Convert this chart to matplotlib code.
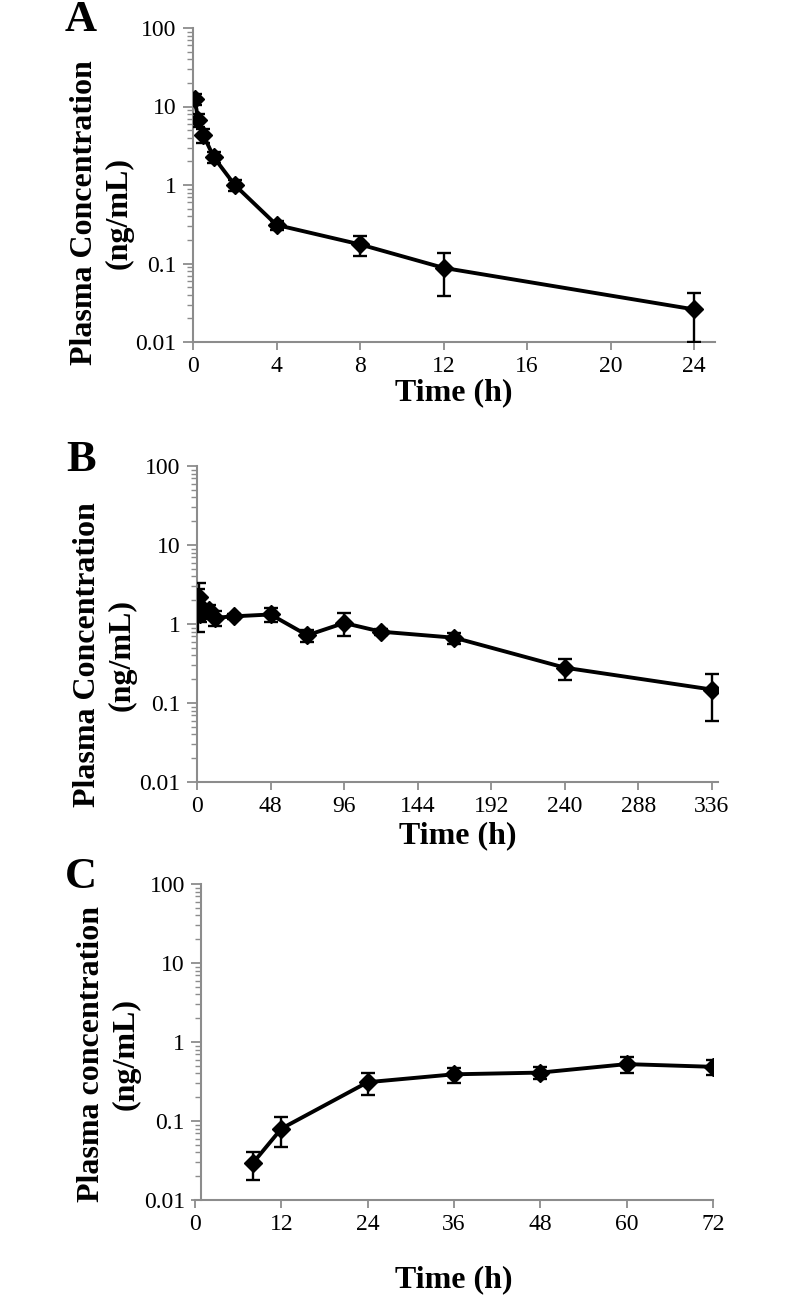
import numpy as np
import matplotlib
matplotlib.use("Agg")
import matplotlib.pyplot as plt
from matplotlib.ticker import FixedLocator, LogLocator, FuncFormatter, NullFormatter

plt.rcParams['font.family'] = ['Liberation Serif', 'DejaVu Serif']

# Panel A
time_a = [0.083, 0.25, 0.5, 1, 2, 4, 8, 12, 24]
conc_a = [12.3, 6.8, 4.3, 2.25, 1.0, 0.31, 0.175, 0.088, 0.026]
sd_a = [2.0, 1.3, 0.9, 0.35, 0.15, 0.04, 0.05, 0.05, 0.016]

# Panel B
time_b = [0.5, 1, 2, 4, 8, 12, 24, 48, 72, 96, 120, 168, 240, 336]
conc_b = [1.8, 2.2, 1.35, 1.45, 1.5, 1.2, 1.25, 1.32, 0.72, 1.03, 0.8, 0.67, 0.28, 0.148]
sd_b = [1.0, 1.1, 0.3, 0.3, 0.25, 0.25, 0.1, 0.26, 0.12, 0.33, 0.07, 0.11, 0.085, 0.088]

# Panel C
time_c = [8, 12, 24, 36, 48, 60, 72]
conc_c = [0.029, 0.080, 0.31, 0.39, 0.41, 0.525, 0.485]
sd_c = [0.011, 0.033, 0.094, 0.085, 0.07, 0.12, 0.1]

W, H = 787, 1303
fig = plt.figure(figsize=(W / 100, H / 100), dpi=100)

grey = '#8c8c8c'


def panel(rect, t, c, sd, xticks, xlim, ylab, ylab_xy, xpad, spine_x=None):
    l, top, r, bot = rect
    ax = fig.add_axes([l / W, 1 - bot / H, (r - l) / W, (bot - top) / H])
    ax.errorbar(t, c, yerr=sd, color='black', lw=2.8, marker='D', ms=9,
                ecolor='black', elinewidth=1.7, capsize=5, capthick=1.7,
                zorder=3)
    ax.set_yscale('log')
    ax.set_ylim(0.01, 100)
    ax.set_xlim(*xlim)
    ax.yaxis.set_major_locator(FixedLocator([0.01, 0.1, 1, 10, 100]))
    ax.yaxis.set_major_formatter(FuncFormatter(lambda v, p: '%g' % v))
    ax.yaxis.set_minor_locator(LogLocator(base=10, subs=np.arange(2, 10)))
    ax.yaxis.set_minor_formatter(NullFormatter())
    ax.set_xticks(xticks)
    for s in ['top', 'right']:
        ax.spines[s].set_visible(False)
    for s in ['left', 'bottom']:
        ax.spines[s].set_color(grey)
        ax.spines[s].set_linewidth(1.5)
    if spine_x is not None:
        ax.spines['left'].set_position(('data', spine_x))
    ax.tick_params(axis='y', which='major', direction='out', length=7, width=1.3,
                   color=grey, labelsize=17, pad=5)
    ax.tick_params(axis='y', which='minor', direction='out', length=4, width=1.0,
                   color=grey)
    ax.tick_params(axis='x', which='major', direction='out', length=6, width=1.3,
                   color=grey, labelsize=17, pad=4)
    ax.set_xlabel('Time (h)', fontsize=23, fontweight='bold', labelpad=xpad)
    fig.text(ylab_xy[0] / W, 1 - ylab_xy[1] / H, ylab, fontsize=23,
             fontweight='bold', rotation=90, ha='center', va='center',
             multialignment='center', linespacing=1.25)
    return ax


panel((193, 28, 715, 342), time_a, conc_a, sd_a, [0, 4, 8, 12, 16, 20, 24],
      (0, 25), 'Plasma Concentration\n(ng/mL)', (102, 213), 1)
panel((197, 466, 718, 782), time_b, conc_b, sd_b,
      [0, 48, 96, 144, 192, 240, 288, 336], (0, 340),
      'Plasma Concentration\n(ng/mL)', (105, 655), 3)
panel((195, 884, 713, 1200), time_c, conc_c, sd_c,
      [0, 12, 24, 36, 48, 60, 72], (0, 72),
      'Plasma concentration\n(ng/mL)', (109, 1054), 22, spine_x=0.9)

for letter, y in [('A', 20), ('B', 460), ('C', 877)]:
    fig.text(81 / W, 1 - y / H, letter, fontsize=32, fontweight='bold',
             ha='center', va='center')

fig.savefig('out.png', dpi=100)
